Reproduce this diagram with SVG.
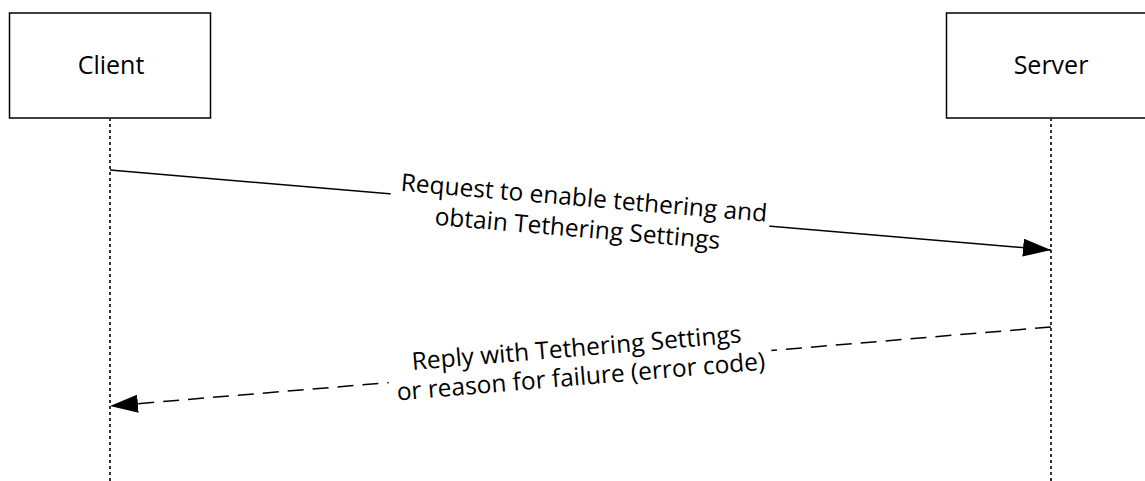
<svg xmlns="http://www.w3.org/2000/svg" width="1145" height="481" viewBox="0 0 1145 481">
<style>
.box{fill:#fff;stroke:#000;stroke-width:1.5}
.life{stroke:#333;stroke-width:2;stroke-dasharray:3 3;fill:none}
.msg{stroke:#000;stroke-width:1.5;fill:none}
.dash{stroke-dasharray:16 9}
.t{font-family:"Open Sans","Noto Sans",sans-serif;font-size:24.5px;fill:#000;text-anchor:middle}
.mask{fill:#fff}
</style>
<defs>
<marker id="ah" markerWidth="28" markerHeight="18" refX="28" refY="9" orient="auto" markerUnits="userSpaceOnUse">
<path d="M0,0 L28,9 L0,18 Z" fill="#000"/>
</marker>
</defs>
<g id="client">
<rect class="box" x="9.5" y="13" width="201" height="105"/>
<text class="t" x="111" y="74" style="font-size:25px">Client</text>
</g>
<g id="server">
<rect class="box" x="946.5" y="13" width="220" height="105"/>
<text class="t" x="1051" y="74" style="font-size:25px">Server</text>
</g>
<g id="connectors">
<line class="life" x1="110" y1="118" x2="110" y2="481"/>
<line class="life" x1="1051" y1="118" x2="1051" y2="481"/>
<line class="msg" x1="110" y1="170" x2="1051" y2="250" marker-end="url(#ah)"/>
<line class="msg dash" x1="1051" y1="327" x2="110" y2="406" marker-end="url(#ah)"/>
<g transform="translate(580,210) rotate(4.86)">
<rect class="mask" x="-190" y="-24" width="380" height="64"/>
<text class="t" x="3" y="-4">Request to enable tethering and</text>
<text class="t" x="-1" y="27">obtain Tethering Settings</text>
</g>
<g transform="translate(580,366.5) rotate(-4.8)">
<rect class="mask" x="-192" y="-32" width="384" height="60"/>
<text class="t" x="-2" y="-10.5">Reply with Tethering Settings</text>
<text class="t" x="0" y="18.5">or reason for failure (error code)</text>
</g>
</g>
</svg>
